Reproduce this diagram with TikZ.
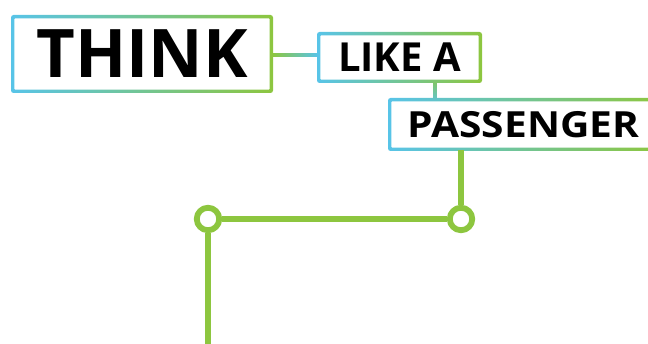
\documentclass[tikz,border=0pt]{standalone}
\usepackage{fontspec}
\setmainfont{Open Sans}
\newfontfamily\widesans[FakeStretch=1.13]{Open Sans}
\usetikzlibrary{positioning,calc}
\definecolor{tkblue}{RGB}{88,196,232}
\definecolor{tkgreen}{RGB}{141,198,63}
\tikzset{
    % Word boxes with a blue-to-green frame
    word box/.style={rectangle, rounded corners=2.5pt, inner sep=0pt, font=\bfseries,
        path picture={
            \shade[left color=tkblue, right color=tkgreen]
                (path picture bounding box.south west) rectangle (path picture bounding box.north east);
            \fill[white, rounded corners=1pt]
                ($(path picture bounding box.south west)+(3.3,-3.3)$) rectangle
                ($(path picture bounding box.north east)+(-3.3,3.3)$);
        }},
    % Route line and stops
    route/.style={draw=tkgreen, line width=5.3pt},
    stop/.style={circle, draw=tkgreen, line width=5.8pt, fill=white,
                 minimum size=22.5pt, inner sep=0pt},
}

\begin{document}
\begin{tikzpicture}[x=1pt, y=-1pt]
    \clip (0,0) rectangle (648,344);

    % Words
    \node[word box, minimum width=262pt, minimum height=78pt, font=\bfseries\fontsize{67}{67}\selectfont]
        (think) at (142,54) {THINK};
    \node[word box, minimum width=165pt, minimum height=51pt, font=\bfseries\fontsize{40}{40}\selectfont]
        (like) at (399.5,57.5) {LIKE A};
    \node[word box, minimum width=271pt, minimum height=53pt, font=\widesans\bfseries\fontsize{36}{36}\selectfont]
        (passenger) at (523.5,124.5) {PASSENGER};

    % Links between the words
    \shade[left color=tkgreen, right color=tkblue]
        ($(think.east)+(-1,-0.5)$) rectangle ($(like.west|-think.east)+(1,2.5)$);
    \coordinate (likefoot) at ([xshift=35.5pt]like.south);
    \shade[top color=tkgreen!75!tkblue, bottom color=tkblue!80!tkgreen]
        ($(likefoot)+(-1.5,-1)$) rectangle ($(likefoot|-passenger.north)+(1.5,1)$);

    % Stops
    \node[stop] (stopa) at (461,219) {};
    \node[stop] (stopb) at (208,219) {};
    \coordinate (lineend) at (208,350);

    % Route
    \coordinate (passfoot) at (passenger.south-|stopa);
    \draw[route] ([yshift=1pt]passfoot) -- (stopa);
    \draw[route] (stopa) -- (stopb);
    \draw[route] (stopb) -- (lineend);
\end{tikzpicture}
\end{document}
